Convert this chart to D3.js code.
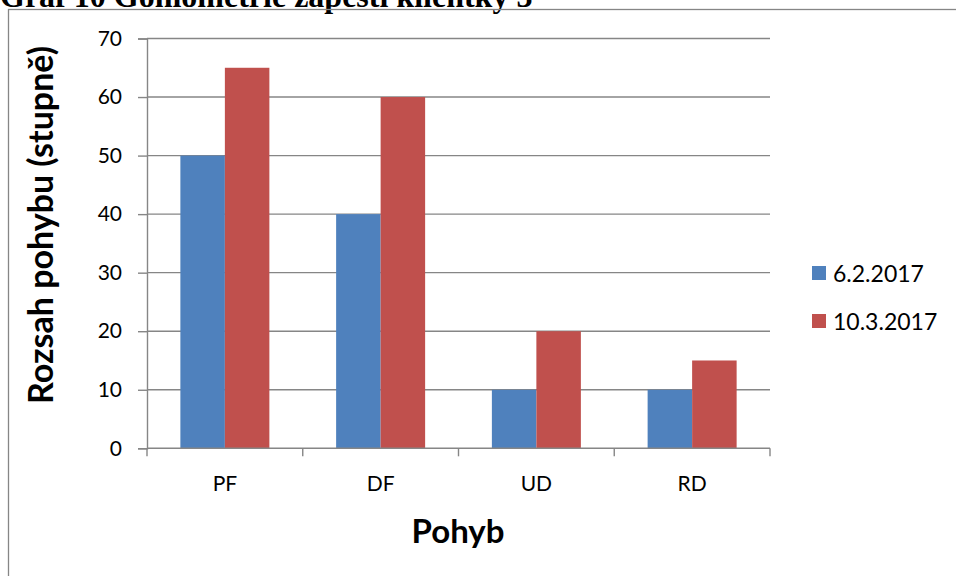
<!DOCTYPE html>
<html>
<head>
<meta charset="utf-8">
<script src="https://cdn.jsdelivr.net/npm/d3@7/dist/d3.min.js"></script>
<style>
  html, body { margin: 0; padding: 0; background: #fff; overflow: hidden; }
  svg { display: block; }
</style>
</head>
<body>
<svg id="chart" width="956" height="576"></svg>
<script>
// Range of motion of the wrist, two measurement dates
const movements = ["PF", "DF", "UD", "RD"];
const seriesNames = ["6.2.2017", "10.3.2017"];
const valuesFeb = [50, 40, 10, 10];
const valuesMar = [65, 60, 20, 15];
const yTicks = [0, 10, 20, 30, 40, 50, 60, 70];
const seriesColors = ["#4F81BD", "#C0504D"];

const svg = d3.select("#chart");
const W = 956, H = 576;
const plot = { left: 147, right: 770, top: 38.5, bottom: 448.3 };
const labelFont = "Lato, 'Open Sans', sans-serif";
const lineColor = "#868686";

// Caption above the chart frame (partly cut by the page top)
svg.append("text")
  .attr("x", 0).attr("y", 7)
  .attr("font-family", "'Liberation Serif', 'Times New Roman', serif")
  .attr("font-weight", "bold")
  .attr("font-size", 32)
  .attr("fill", "#000")
  .text("Graf 10 Goniometrie zápěstí klientky 3");

// Chart frame
svg.append("rect")
  .attr("x", 8.5).attr("y", 9.5)
  .attr("width", W + 20).attr("height", H + 20)
  .attr("fill", "none")
  .attr("stroke", lineColor)
  .attr("stroke-width", 1.3);

// Category bands; each pair of bars leaves a 150% gap between groups
const x0 = d3.scaleBand().domain(movements).range([plot.left, plot.right]).paddingInner(0).paddingOuter(0);
const x1 = d3.scaleBand().domain(seriesNames).range([0, x0.bandwidth()]).paddingInner(0).paddingOuter(0.75);
const y = d3.scaleLinear().domain([0, 70]).range([plot.bottom, plot.top]);

// Horizontal gridlines
svg.append("g")
  .selectAll("line")
  .data(yTicks.filter(t => t > 0))
  .join("line")
  .attr("x1", plot.left).attr("x2", plot.right)
  .attr("y1", d => y(d)).attr("y2", d => y(d))
  .attr("stroke", lineColor)
  .attr("stroke-width", 1.4);

// Bars
const rows = movements.map((m, i) => ({ m, vals: [valuesFeb[i], valuesMar[i]] }));
svg.append("g")
  .selectAll("g")
  .data(rows)
  .join("g")
  .attr("transform", d => `translate(${x0(d.m)},0)`)
  .selectAll("rect")
  .data(d => d.vals.map((v, k) => ({ v, name: seriesNames[k], k })))
  .join("rect")
  .attr("x", d => x1(d.name))
  .attr("width", x1.bandwidth())
  .attr("y", d => y(d.v))
  .attr("height", d => y(0) - y(d.v))
  .attr("fill", d => seriesColors[d.k]);

// Y axis
const yAxis = svg.append("g")
  .attr("transform", `translate(${plot.left},0)`)
  .call(d3.axisLeft(y).tickValues(yTicks).tickSize(9).tickPadding(16).tickFormat(d3.format("d")));
yAxis.select(".domain").attr("stroke", lineColor).attr("stroke-width", 1.4);
yAxis.selectAll(".tick line").attr("stroke", lineColor).attr("stroke-width", 1.4);
yAxis.selectAll(".tick text")
  .attr("font-family", labelFont).attr("font-size", 21).attr("fill", "#000");

// X axis: ticks on category boundaries
const xAxisG = svg.append("g").attr("transform", `translate(0,${plot.bottom})`);
xAxisG.append("line")
  .attr("x1", plot.left).attr("x2", plot.right)
  .attr("stroke", lineColor).attr("stroke-width", 1.4);
const boundaries = movements.map(m => x0(m)).concat([x0(movements[movements.length - 1]) + x0.bandwidth()]);
xAxisG.selectAll("line.tk")
  .data(boundaries)
  .join("line")
  .attr("class", "tk")
  .attr("x1", d => d).attr("x2", d => d)
  .attr("y1", 0).attr("y2", 8)
  .attr("stroke", lineColor).attr("stroke-width", 1.4);
xAxisG.selectAll("text")
  .data(movements)
  .join("text")
  .attr("x", d => x0(d) + x0.bandwidth() / 2)
  .attr("y", 43)
  .attr("text-anchor", "middle")
  .attr("font-family", labelFont).attr("font-size", 21).attr("fill", "#000")
  .text(d => d);

// Axis titles
svg.append("text")
  .attr("x", 458).attr("y", 543)
  .attr("text-anchor", "middle")
  .attr("font-family", labelFont).attr("font-weight", "bold").attr("font-size", 33)
  .text("Pohyb");

svg.append("text")
  .attr("transform", "translate(53,225) rotate(-90)")
  .attr("text-anchor", "middle")
  .attr("font-family", labelFont).attr("font-weight", "bold").attr("font-size", 34)
  .text("Rozsah pohybu (stupně)");

// Legend
const legend = svg.append("g");
seriesNames.forEach((name, k) => {
  const ly = 273 + k * 48;
  legend.append("rect")
    .attr("x", 812).attr("y", ly - 7).attr("width", 14).attr("height", 14)
    .attr("fill", seriesColors[k]);
  legend.append("text")
    .attr("x", 833).attr("y", ly + 8.5)
    .attr("font-family", labelFont).attr("font-size", 23).attr("fill", "#000")
    .text(name);
});
</script>
</body>
</html>
